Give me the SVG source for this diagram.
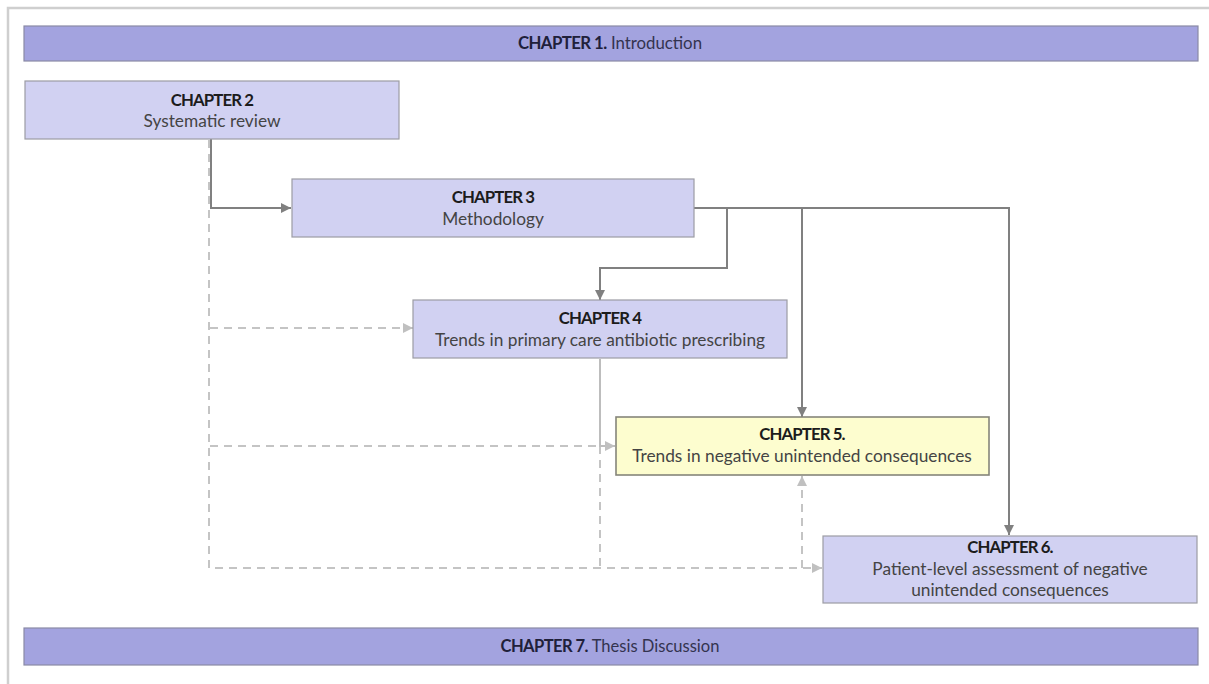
<svg xmlns="http://www.w3.org/2000/svg" width="1209" height="684" viewBox="0 0 1209 684">
  <style>
    .bar { fill: #a3a3df; stroke: #8a8aa6; stroke-width: 1.2; }
    .box { fill: #d1d1f2; stroke: #9c9ca4; stroke-width: 1.2; }
    .hi { fill: #fdfdcf; stroke: #85857a; stroke-width: 1.6; }
    text { font-family: Lato, "Open Sans", "Liberation Sans", sans-serif; font-size: 17.3px; text-anchor: middle; }
    .h { font-weight: bold; fill: #1c1c1c; letter-spacing: -0.9px; font-size: 16.8px; }
    .t { fill: #444444; }
    .bh { font-weight: bold; fill: #20203a; letter-spacing: -0.6px; }
    .bt { fill: #33334f; }
    .solid { fill: none; stroke: #808080; stroke-width: 2; }
    .light { fill: none; stroke: #bdbdbd; stroke-width: 2; }
    .dash { fill: none; stroke: #c4c4c4; stroke-width: 2; stroke-dasharray: 8 6; }
  </style>
  <defs>
    <marker id="arrowDark" markerUnits="userSpaceOnUse" markerWidth="11" markerHeight="11" refX="10" refY="5" orient="auto">
      <path d="M0,0 L10,5 L0,10 z" fill="#808080"/>
    </marker>
    <marker id="arrowLight" markerUnits="userSpaceOnUse" markerWidth="11" markerHeight="11" refX="10" refY="5" orient="auto">
      <path d="M0,0 L10,5 L0,10 z" fill="#c0c0c0"/>
    </marker>
  </defs>

  <rect width="1209" height="684" fill="#ffffff"/>
  <!-- page frame -->
  <path d="M8,684 V8 H1209" fill="none" stroke="#cfcfcf" stroke-width="2.5"/>

  <g id="connectors">
    <!-- dashed links from the review chapter -->
    <path class="dash" d="M209,140 V568 H822" marker-end="url(#arrowLight)"/>
    <path class="dash" d="M600,568 H822" stroke-dashoffset="7"/>
    <path class="dash" d="M210,328 H413" marker-end="url(#arrowLight)"/>
    <path class="dash" d="M210,446 H600"/>
    <path class="dash" d="M600,446 V568"/>
    <path class="dash" d="M802,568 V476" marker-end="url(#arrowLight)"/>
    <!-- chapter 4 onwards -->
    <path class="light" d="M600,359 V446 H615" marker-end="url(#arrowLight)"/>
    <!-- solid links -->
    <path class="solid" d="M211,139 V208 H291" marker-end="url(#arrowDark)"/>
    <path class="solid" d="M694,208 H1009 V535" marker-end="url(#arrowDark)"/>
    <path class="solid" d="M727,208 V268 H600 V300" marker-end="url(#arrowDark)"/>
    <path class="solid" d="M802,208 V417" marker-end="url(#arrowDark)"/>
  </g>

  <g id="ch1">
    <rect class="bar" x="24" y="26" width="1174" height="35"/>
    <text x="610" y="49" font-size="17" textLength="184" lengthAdjust="spacingAndGlyphs"><tspan class="bh">CHAPTER 1.</tspan><tspan class="bt"> Introduction</tspan></text>
  </g>

  <g id="ch2">
    <rect class="box" x="25" y="81" width="374" height="58"/>
    <text class="h" x="212" y="106">CHAPTER 2</text>
    <text class="t" x="212" y="127">Systematic review</text>
  </g>

  <g id="ch3">
    <rect class="box" x="292" y="179" width="402" height="58"/>
    <text class="h" x="493" y="203">CHAPTER 3</text>
    <text class="t" x="493" y="225">Methodology</text>
  </g>

  <g id="ch4">
    <rect class="box" x="413" y="300" width="374" height="58"/>
    <text class="h" x="600" y="324">CHAPTER 4</text>
    <text class="t" x="600" y="346">Trends in primary care antibiotic prescribing</text>
  </g>

  <g id="ch5">
    <rect class="hi" x="616" y="417" width="373" height="58"/>
    <text class="h" x="802" y="440">CHAPTER 5.</text>
    <text class="t" x="802" y="462">Trends in negative unintended consequences</text>
  </g>

  <g id="ch6">
    <rect class="box" x="823" y="536" width="374" height="67"/>
    <text class="h" x="1010" y="553">CHAPTER 6.</text>
    <text class="t" x="1010" y="575">Patient-level assessment of negative</text>
    <text class="t" x="1010" y="596">unintended consequences</text>
  </g>

  <g id="ch7">
    <rect class="bar" x="24" y="628" width="1174" height="37"/>
    <text x="610" y="652" font-size="17.5" textLength="219" lengthAdjust="spacingAndGlyphs"><tspan class="bh">CHAPTER 7.</tspan><tspan class="bt"> Thesis Discussion</tspan></text>
  </g>
</svg>
